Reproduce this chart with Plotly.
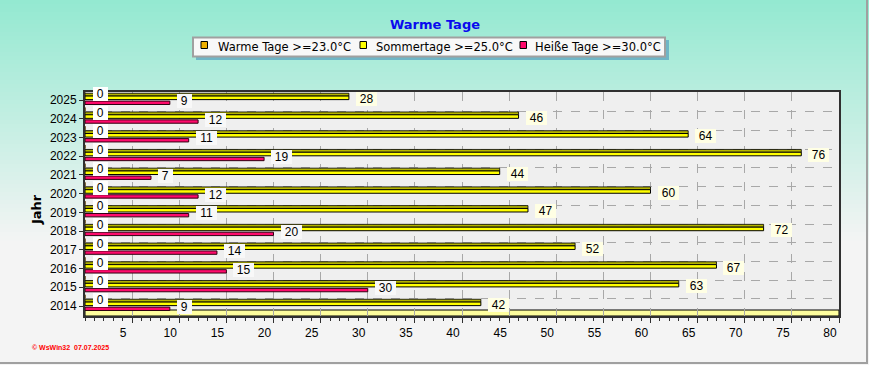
import plotly.graph_objects as go

# ---------------- data ----------------
years = [2014, 2015, 2016, 2017, 2018, 2019, 2020, 2021, 2022, 2023, 2024, 2025]
warme_tage = [0, 0, 0, 0, 0, 0, 0, 0, 0, 0, 0, 0]
sommertage = [42, 63, 67, 52, 72, 47, 60, 44, 76, 64, 46, 28]
heisse_tage = [9, 30, 15, 14, 20, 11, 12, 7, 19, 11, 12, 9]
x_ticks = [5, 10, 15, 20, 25, 30, 35, 40, 45, 50, 55, 60, 65, 70, 75, 80]
series_names = ["Warme Tage >=23.0°C", "Sommertage >=25.0°C", "Heiße Tage >=30.0°C"]
series_colors = ["#f0b000", "#ffff00", "#ff0a6c"]
chart_title = "Warme Tage"
y_title = "Jahr"
footer = "© WsWin32  07.07.2025"

# ---------------- geometry (pixels) ----------------
W, H = 869, 365
L, R, T, B = 85, 839, 92, 316


def px_x(px):
    return (px - L) / (R - L)


def px_y(py):
    return (B - py) / (B - T)


def mix(c1, c2, t):
    return "rgb(%d,%d,%d)" % tuple(round(a + (b - a) * t) for a, b in zip(c1, c2))


shapes = []
# background gradient (mint -> light grey)
top_c = (148, 233, 209)
bot_c = (244, 244, 244)
grad_end = 240
step = 4
for py in range(0, grad_end, step):
    shapes.append(dict(type="rect", xref="paper", yref="paper", layer="below",
                       x0=px_x(-2), x1=px_x(W + 2), y0=px_y(py + step + 0.5), y1=px_y(py),
                       fillcolor=mix(top_c, bot_c, py / grad_end), line=dict(width=0)))
# back wall
shapes.append(dict(type="rect", xref="paper", yref="paper", layer="below",
                   x0=0, x1=1, y0=px_y(310), y1=1, fillcolor="#efefef", line=dict(width=0)))
# floor
shapes.append(dict(type="rect", xref="paper", yref="paper", layer="below",
                   x0=0, x1=1, y0=0, y1=px_y(310), fillcolor="#ffff9e",
                   line=dict(color="#000000", width=1)))
# outer frame (right / bottom)
shapes.append(dict(type="line", xref="paper", yref="paper", layer="above",
                   x0=px_x(867), x1=px_x(867), y0=px_y(0), y1=px_y(364),
                   line=dict(color="#a0a0a0", width=2)))
shapes.append(dict(type="line", xref="paper", yref="paper", layer="above",
                   x0=px_x(0), x1=px_x(868), y0=px_y(363), y1=px_y(363),
                   line=dict(color="#a0a0a0", width=2)))

# custom legend box (shadow + box)
shapes.append(dict(type="rect", xref="paper", yref="paper", layer="above",
                   x0=px_x(196), x1=px_x(669), y0=px_y(60), y1=px_y(40),
                   fillcolor="#6fb6c6", line=dict(width=0)))
shapes.append(dict(type="rect", xref="paper", yref="paper", layer="above",
                   x0=px_x(193), x1=px_x(665), y0=px_y(56.5), y1=px_y(37.5),
                   fillcolor="#f8f8f8", line=dict(color="#a0a0a0", width=2)))

legend_marker_px = [201, 360, 520]
legend_text_px = [216, 374, 533]
for mx, col in zip(legend_marker_px, series_colors):
    shapes.append(dict(type="rect", xref="paper", yref="paper", layer="above",
                       x0=px_x(mx), x1=px_x(mx + 6.5), y0=px_y(48.5), y1=px_y(41.5),
                       fillcolor=col, line=dict(color="#000000", width=1)))

fig = go.Figure()

fig.add_trace(go.Bar(
    x=heisse_tage, y=years, orientation="h", name=series_names[2], showlegend=False,
    width=0.18, offset=-0.24,
    marker=dict(color=series_colors[2], line=dict(color="#300010", width=1)),
))
fig.add_trace(go.Bar(
    x=sommertage, y=years, orientation="h", showlegend=False, hoverinfo="skip",
    width=0.15, offset=0.21,
    marker=dict(color="#b4b400", line=dict(color="#000000", width=0.8)),
))
fig.add_trace(go.Bar(
    x=sommertage, y=years, orientation="h", name=series_names[1], showlegend=False,
    width=0.19, offset=0.02,
    marker=dict(color=series_colors[1], line=dict(color="#000000", width=1)),
))
fig.add_trace(go.Bar(
    x=warme_tage, y=years, orientation="h", name=series_names[0], showlegend=False,
    width=0.2, offset=0.4,
    marker=dict(color=series_colors[0], line=dict(color="#5a3a00", width=1)),
))

label_font = dict(family="Liberation Sans, Arial, sans-serif", size=12, color="#000000")


def label_w(s):
    return 6.7 * len(s) + 8


annotations = []
for yr, w, s, h in zip(years, warme_tage, sommertage, heisse_tage):
    for val, xs, ys, bg in ((w, 8, 6, "#ffffff"), (s, 7, 1, "#ffffe4"), (h, 7, -1, "#f8f8f8")):
        txt = str(val)
        annotations.append(dict(
            x=val, y=yr, xref="x", yref="y", text=txt, showarrow=False,
            xanchor="left", yanchor="middle", xshift=xs, yshift=ys,
            bgcolor=bg, borderpad=0, borderwidth=0, width=label_w(txt),
            font=label_font,
        ))

for tx, name in zip(legend_text_px, series_names):
    annotations.append(dict(
        x=px_x(tx), y=px_y(46.5), xref="paper", yref="paper", text=name, showarrow=False,
        xanchor="left", yanchor="middle",
        font=dict(family="DejaVu Sans, Verdana, sans-serif", size=11.5, color="#000000"),
    ))

annotations.append(dict(
    x=px_x(36), y=px_y(210), xref="paper", yref="paper", text="<b>%s</b>" % y_title,
    textangle=-90, showarrow=False, xanchor="center", yanchor="middle",
    font=dict(family="DejaVu Sans, Verdana, sans-serif", size=13, color="#000000"),
))
annotations.append(dict(
    x=px_x(30), y=px_y(347), xref="paper", yref="paper", text="<b>%s</b>" % footer,
    showarrow=False, xanchor="left", yanchor="middle",
    font=dict(family="Liberation Sans, Arial, sans-serif", size=7, color="#ff0000"),
))

fig.update_layout(
    width=W, height=H,
    margin=dict(l=L, r=W - R, t=T, b=H - B, pad=0),
    paper_bgcolor="#f4f4f4",
    plot_bgcolor="#efefef",
    barmode="overlay",
    showlegend=False,
    title=dict(text="<b>%s</b>" % chart_title, x=435 / W, xref="container", xanchor="center",
               y=1 - 24 / H, yref="container", yanchor="middle",
               font=dict(family="DejaVu Sans, Verdana, sans-serif", size=13, color="#0a0aee")),
    xaxis=dict(range=[0, 80], tickvals=x_ticks, ticklabelshift=-9, automargin=False,
               showgrid=True, gridcolor="#a8a8a8", griddash="dash", gridwidth=1,
               zeroline=False, showline=True, linecolor="#303030", linewidth=2, mirror=True,
               ticks="outside", ticklen=5, tickcolor="#303030",
               minor=dict(dtick=1, tick0=0, ticks="outside", ticklen=3, tickcolor="#303030", showgrid=False),
               tickfont=dict(family="Liberation Sans, Arial, sans-serif", size=12, color="#000000")),
    yaxis=dict(range=[years[0] - 0.534, years[-1] + 0.427], tickvals=years,
               ticktext=[str(v) for v in years], automargin=False,
               showgrid=False, zeroline=False,
               showline=True, linecolor="#303030", linewidth=2, mirror=True,
               ticks="outside", ticklen=4, tickcolor="#303030",
               minor=dict(tick0=years[0] - 0.625, dtick=1, showgrid=True, gridcolor="#a8a8a8",
                          griddash="dash", gridwidth=1, ticks=""),
               tickfont=dict(family="Liberation Sans, Arial, sans-serif", size=12, color="#000000")),
    shapes=shapes,
    annotations=annotations,
)

fig.write_html("out.html", config={"displayModeBar": False},
               post_script="document.body.style.margin='0px';document.body.style.overflow='hidden';")
